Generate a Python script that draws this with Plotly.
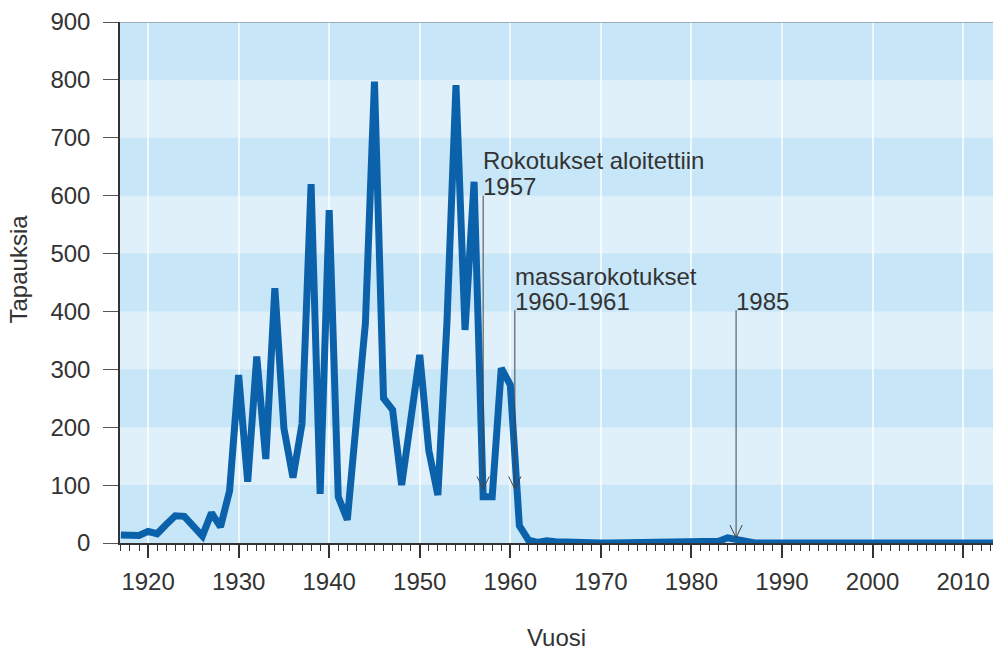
import plotly.graph_objects as go

years = list(range(1917, 2015))
cases = [14, 15, 13, 20, 16, 32, 47, 46, 30, 12,
         52, 28, 90, 290, 106, 322, 145, 440, 198, 113,
         206, 620, 85, 575, 80, 40, 210, 380, 797, 250,
         230, 100, 212, 325, 160, 83, 380, 791, 368, 624,
         80, 80, 302, 273, 30, 5, 1, 4, 2, 1,
         0, 1, 0, 0, 0, 0, 0, 0, 0, 0,
         0, 0, 0, 0, 0, 1, 3, 9, 5, 1,
         0, 0, 0, 0, 0, 0, 0, 0, 0, 0,
         0, 0, 0, 0, 0, 0, 0, 0, 0, 0,
         0, 0, 0, 0, 0, 0, 0, 0]

x_ticks = [1920, 1930, 1940, 1950, 1960, 1970, 1980, 1990, 2000, 2010]
y_ticks = [0, 100, 200, 300, 400, 500, 600, 700, 800, 900]

# annotation texts: (lines, x, line-y values, arrow top, arrow tip)
notes = [
    (["Rokotukset aloitettiin", "1957"], 1957.0, [661, 615], 600, 93),
    (["massarokotukset", "1960-1961"], 1960.5, [460, 417], 402, 93),
    (["1985"], 1984.93, [417], 402, 9),
]

FONT = "Liberation Sans, Arial, sans-serif"
TXT = "#333333"
LINE = "#0c61ab"
DARK_BAND = "#c7e6f8"
LIGHT_BAND = "#dff0fa"

fig = go.Figure()
fig.add_trace(go.Scatter(
    x=years, y=cases, mode="lines",
    line=dict(color=LINE, width=7, shape="linear"),
    hoverinfo="x+y", showlegend=False,
))

shapes = []
# alternating horizontal bands
for i in range(0, len(y_ticks) - 1, 2):
    shapes.append(dict(type="rect", xref="paper", x0=0, x1=1, yref="y",
                       y0=y_ticks[i], y1=y_ticks[i + 1], fillcolor=DARK_BAND,
                       line=dict(width=0), layer="below"))
# top border
shapes.append(dict(type="line", xref="paper", x0=0, x1=1, yref="y",
                   y0=y_ticks[-1], y1=y_ticks[-1],
                   line=dict(color="#8c9aa4", width=1.5), layer="above"))

annotations = []
for lines, xv, ys, top, tip in notes:
    for txt, yv in zip(lines, ys):
        annotations.append(dict(x=xv, y=yv, xref="x", yref="y", text=txt,
                                showarrow=False, xanchor="left", yanchor="middle",
                                xshift=-2, font=dict(family=FONT, size=24, color=TXT)))
    shapes.append(dict(type="line", xref="x", yref="y", x0=xv, x1=xv, y0=top, y1=tip,
                       line=dict(color="#444444", width=1), layer="above"))
    hw, hh = 0.68, 22
    shapes.append(dict(type="path", xref="x", yref="y",
                       path=f"M {xv - hw},{tip + hh} L {xv},{tip} L {xv + hw},{tip + hh}",
                       line=dict(color="#444444", width=1), layer="above"))

annotations.append(dict(text="Tapauksia", xref="paper", yref="paper", x=0, y=0.5,
                        xanchor="center", yanchor="middle", xshift=-102, yshift=13,
                        textangle=-90, showarrow=False,
                        font=dict(family=FONT, size=24, color=TXT)))
annotations.append(dict(text="Vuosi", xref="paper", yref="paper", x=0.5, y=0,
                        xanchor="center", yanchor="middle", yshift=-94,
                        showarrow=False, font=dict(family=FONT, size=24, color=TXT)))

fig.update_layout(
    width=993, height=652,
    margin=dict(l=120, r=0, t=22, b=109),
    paper_bgcolor="white",
    plot_bgcolor=LIGHT_BAND,
    font=dict(family=FONT, size=24, color=TXT),
    shapes=shapes,
    annotations=annotations,
    showlegend=False,
)
fig.update_xaxes(
    range=[1916.9, 2013.3],
    tickmode="array", tickvals=x_ticks,
    ticks="outside", ticklen=13, tickwidth=1.5, tickcolor="#333333",
    ticklabelstandoff=3,
    showline=True, linecolor="#333333", linewidth=1.5,
    showgrid=True, gridcolor="rgba(255,255,255,0.7)", gridwidth=1.5,
    zeroline=False,
    minor=dict(dtick=1, ticks="outside", ticklen=6, tickcolor="#333333", tickwidth=1, showgrid=False),
    tickfont=dict(family=FONT, size=24, color=TXT),
)
fig.update_yaxes(
    range=[0, 900],
    tickmode="array", tickvals=y_ticks,
    ticks="outside", ticklen=15, tickwidth=1, tickcolor="#555555",
    ticklabelstandoff=8,
    showline=True, linecolor="#333333", linewidth=1.5,
    showgrid=False, zeroline=False,
    tickfont=dict(family=FONT, size=24, color=TXT),
)

fig.write_html("out.html", config={"displayModeBar": False},
               post_script="document.body.style.margin='0';document.body.style.overflow='hidden';")
